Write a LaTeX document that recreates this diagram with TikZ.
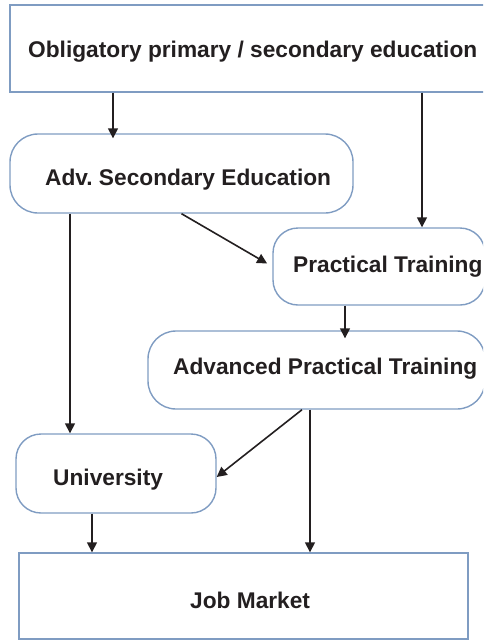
\documentclass[tikz,border=0pt]{standalone}
\usepackage{fontspec}
\setmainfont{Liberation Sans}
\usetikzlibrary{arrows.meta}
\definecolor{boxblue}{HTML}{7F9CC2}
\definecolor{ink}{HTML}{231F20}
\tikzset{
  sqbox/.style={draw=boxblue, line width=1.4pt, rectangle, inner sep=0pt},
  rdbox/.style={sqbox, rounded corners=28pt},
  lbl/.style={inner sep=0pt, anchor=base west, text=ink, font=\fontsize{22.7}{27}\selectfont\bfseries},
  arr/.style={draw=ink, line width=1.6pt, -{Triangle[length=10pt,width=10pt]}}
}
\begin{document}
\begin{tikzpicture}[x=1pt,y=-1pt]
\useasboundingbox (0,0) rectangle (483,640);
\clip (0,0) rectangle (483,640);
% boxes
\node[sqbox, minimum width=486pt, minimum height=87pt] (top) at (253,48.5) {};
\node[rdbox, minimum width=343pt, minimum height=79pt] (ase) at (181.5,173.5) {};
\node[rdbox, rounded corners=25pt, minimum width=212pt, minimum height=77pt] (pt) at (379,266.5) {};
\node[rdbox, minimum width=337pt, minimum height=78pt] (apt) at (316.5,370) {};
\node[rdbox, rounded corners=25pt, minimum width=200pt, minimum height=79pt] (uni) at (116,473.5) {};
\node[sqbox, minimum width=449pt, minimum height=86pt] (job) at (243.5,596) {};
% labels
\node[lbl] (topT) at (28,57) {Obligatory primary / secondary education};
\node[lbl] (aseT) at (45,185) {Adv.\ Secondary Education};
\node[lbl] (ptT) at (293,272) {Practical Training};
\node[lbl] (aptT) at (173,374) {Advanced Practical Training};
\node[lbl] (uniT) at (53,485) {University};
\node[lbl] (jobT) at (190,608) {Job Market};
% connector columns
\coordinate (c1) at (113,0);
\coordinate (c2) at (422,0);
\coordinate (c4) at (70,0);
\coordinate (c5) at (345,0);
\coordinate (c7) at (310,0);
\coordinate (c8) at (92,0);
% connectors
\draw[arr, shorten >=-5pt] (top.south -| c1) -- (ase.north -| c1);
\draw[arr] (top.south -| c2) -- (pt.north -| c2);
\draw[arr, shorten >=6pt] (ase.south) -- (pt.west);
\draw[arr] (ase.south -| c4) -- (uni.north -| c4);
\draw[arr, shorten >=-8pt] (pt.south -| c5) -- (apt.north -| c5);
\draw[arr] ([xshift=-14.5pt]apt.south) -- ([yshift=-3.5pt]uni.east);
\draw[arr] (apt.south -| c7) -- (job.north -| c7);
\draw[arr] (uni.south -| c8) -- (job.north -| c8);
\end{tikzpicture}
\end{document}
